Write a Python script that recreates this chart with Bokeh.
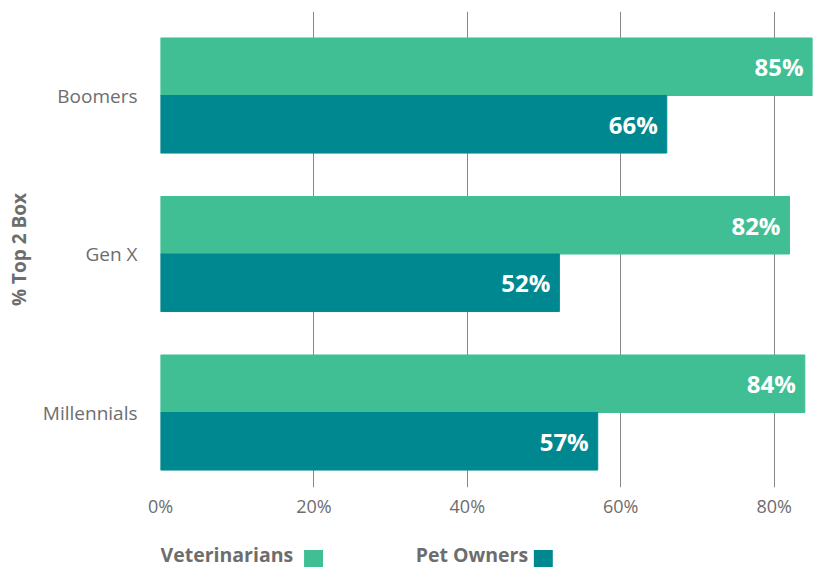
from bokeh.plotting import figure
from bokeh.models import ColumnDataSource, FixedTicker, Range1d
from bokeh.layouts import column
from bokeh.transform import dodge
from bokeh.core.properties import value
from bokeh.embed import file_html
from bokeh.resources import INLINE

categories = ["Millennials", "Gen X", "Boomers"]
veterinarians = [84, 82, 85]
pet_owners = [57, 52, 66]
x_ticks = [0, 20, 40, 60, 80]
x_tick_labels = ["0%", "20%", "40%", "60%", "80%"]
series_names = ["Veterinarians", "Pet Owners"]
colors = ["#41BF94", "#008891"]
GRAY = "#6d6d6d"
FONT = "Open Sans"

idx = list(range(len(categories)))
src = ColumnDataSource(dict(
    y=idx,
    vet=veterinarians,
    own=pet_owners,
    vet_lbl=[f"{v}%" for v in veterinarians],
    own_lbl=[f"{v}%" for v in pet_owners],
))

p = figure(width=817, height=536, output_backend="svg", toolbar_location=None,
           x_range=Range1d(0, 85), y_range=Range1d(-0.473, 2.53),
           min_border_left=160, min_border_right=5, min_border_top=11, min_border_bottom=49)
p.outline_line_color = None

bh = 0.363
off = 0.1815
p.hbar(y=dodge("y", off), right="vet", left=0, height=bh, source=src, color=colors[0])
p.hbar(y=dodge("y", -off), right="own", left=0, height=bh, source=src, color=colors[1])

for col, o in (("vet", off), ("own", -off)):
    p.text(x=col, y=dodge("y", o), text=f"{col}_lbl", source=src, x_offset=-9,
           text_align="right", text_baseline="middle", text_color="white",
           text_font_size="24px", text_font_style="bold", text_font=value(FONT))

# x axis
p.xaxis.ticker = FixedTicker(ticks=x_ticks)
p.xaxis.major_label_overrides = {t: l for t, l in zip(x_ticks, x_tick_labels)}
p.xaxis.axis_line_color = None
p.xaxis.major_tick_line_color = None
p.xaxis.major_tick_out = 0
p.xaxis.minor_tick_line_color = None
p.xaxis.minor_tick_out = 0
p.xaxis.major_label_standoff = 6
p.xaxis.major_label_text_font = FONT
p.xaxis.major_label_text_font_size = "18px"
p.xaxis.major_label_text_color = GRAY

# y axis
p.yaxis.ticker = FixedTicker(ticks=idx)
p.yaxis.major_label_overrides = {i: c for i, c in zip(idx, categories)}
p.yaxis.axis_line_color = None
p.yaxis.major_tick_line_color = None
p.yaxis.major_tick_out = 0
p.yaxis.minor_tick_line_color = None
p.yaxis.minor_tick_out = 0
p.yaxis.major_label_standoff = 23
p.yaxis.major_label_text_font = FONT
p.yaxis.major_label_text_font_size = "19px"
p.yaxis.major_label_text_color = GRAY
p.yaxis.axis_label = "% Top 2 Box"
p.yaxis.axis_label_text_font = FONT
p.yaxis.axis_label_text_font_size = "19px"
p.yaxis.axis_label_text_font_style = "bold"
p.yaxis.axis_label_text_color = GRAY
p.yaxis.axis_label_standoff = 8

p.xgrid.ticker = FixedTicker(ticks=x_ticks)
p.xgrid.grid_line_color = "#888888"
p.xgrid.grid_line_width = 1
p.ygrid.grid_line_color = None

# legend strip: label followed by its colour swatch.
# Its frame is aligned with the main frame (160..812 px), so the range is in page pixels.
lg = figure(width=817, height=31, output_backend="svg", toolbar_location=None,
            x_range=Range1d(158, 812), y_range=Range1d(0, 31),
            x_axis_type=None, y_axis_type=None,
            min_border_left=158, min_border_right=5, min_border_top=0, min_border_bottom=0)
lg.outline_line_color = None
lg.grid.grid_line_color = None
leg_src = ColumnDataSource(dict(
    name=series_names,
    tx=[158, 414],
    sx=[311.5, 542],
    color=colors,
))
lg.text(x="tx", y=13.5, text="name", source=leg_src, text_align="left", text_baseline="middle",
        text_color=GRAY, text_font=value(FONT), text_font_size="19.5px", text_font_style="bold")
lg.rect(x="sx", y=8, width=19, height=19, source=leg_src, fill_color="color", line_color=None)

layout = column(p, lg, spacing=0)
open("out.html", "w").write(file_html(layout, INLINE))
